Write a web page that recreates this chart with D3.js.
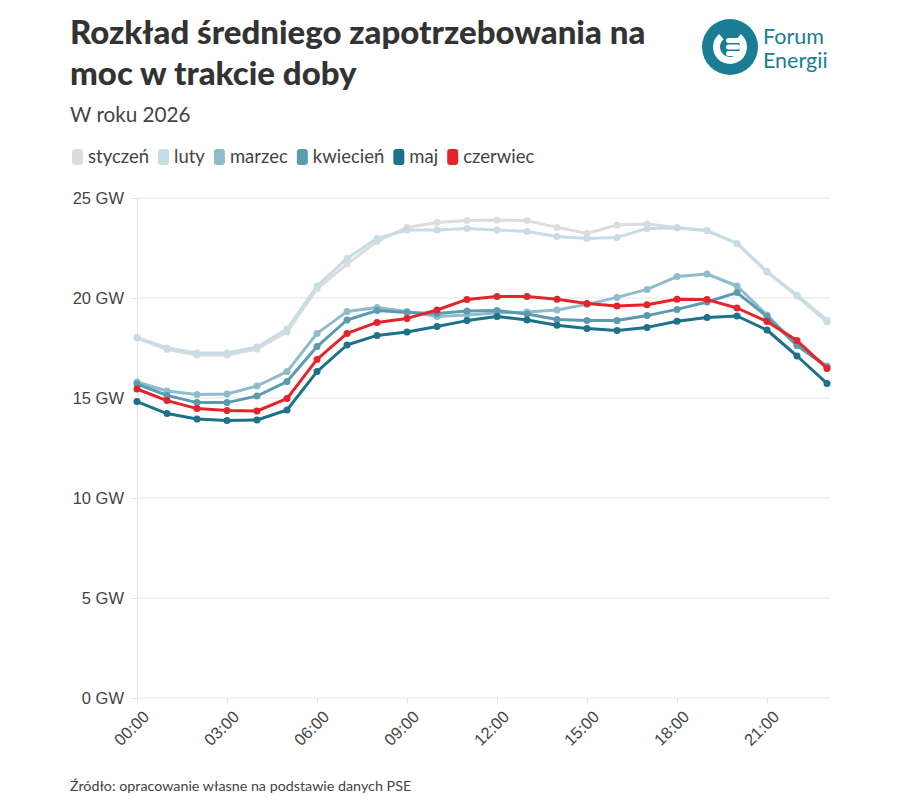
<!DOCTYPE html>
<html>
<head>
<meta charset="utf-8">
<script src="https://cdn.jsdelivr.net/npm/d3@7"></script>
<style>
  body { margin: 0; background: #fff; }
  svg { font-family: "Source Sans Pro", Lato, "Noto Sans", sans-serif; }
</style>
</head>
<body>
<svg id="chart"></svg>
<script>
const hours = d3.range(0, 24);
const months = ['styczeń', 'luty', 'marzec', 'kwiecień', 'maj', 'czerwiec'];
const colors = ['#dcdcdc', '#c6dde6', '#8fbcca', '#5a9bad', '#1b7289', '#e3242b'];

const styczen = [18.0, 17.42, 17.15, 17.15, 17.45, 18.3, 20.45, 21.7, 22.82, 23.53, 23.78, 23.87, 23.9, 23.87, 23.53, 23.23, 23.65, 23.7, 23.52, 23.37, 22.73, 21.32, 20.15, 18.9];
const luty = [18.03, 17.5, 17.25, 17.25, 17.55, 18.45, 20.6, 21.98, 22.98, 23.4, 23.4, 23.48, 23.4, 23.33, 23.07, 22.97, 23.03, 23.48, 23.5, 23.37, 22.73, 21.3, 20.1, 18.8];
const marzec = [15.8, 15.35, 15.18, 15.2, 15.6, 16.32, 18.23, 19.32, 19.53, 19.32, 19.07, 19.15, 19.25, 19.3, 19.4, 19.68, 20.03, 20.43, 21.07, 21.2, 20.6, 19.15, 17.65, 16.6];
const kwiecien = [15.7, 15.13, 14.77, 14.77, 15.1, 15.82, 17.57, 18.9, 19.37, 19.27, 19.23, 19.35, 19.38, 19.2, 18.93, 18.88, 18.88, 19.12, 19.43, 19.8, 20.27, 19.07, 17.62, 16.55];
const maj = [14.82, 14.22, 13.95, 13.88, 13.9, 14.4, 16.32, 17.65, 18.13, 18.3, 18.57, 18.87, 19.07, 18.9, 18.64, 18.47, 18.38, 18.53, 18.84, 19.02, 19.1, 18.4, 17.1, 15.73];
const czerwiec = [15.45, 14.87, 14.47, 14.37, 14.35, 14.97, 16.93, 18.23, 18.78, 18.98, 19.4, 19.93, 20.07, 20.07, 19.94, 19.72, 19.6, 19.66, 19.94, 19.92, 19.5, 18.83, 17.87, 16.48];

const seriesValues = [styczen, luty, marzec, kwiecien, maj, czerwiec];
const yTicks = [0, 5, 10, 15, 20, 25];
const xTicks = [0, 3, 6, 9, 12, 15, 18, 21];

const width = 916;
const height = 804;
const teal = '#1a7d93';

const svg = d3.select('#chart')
  .attr('width', width)
  .attr('height', height);

const xScale = d3.scaleLinear()
  .domain([0, 23])
  .range([137, 827]);

const yScale = d3.scaleLinear()
  .domain([0, 25])
  .range([698, 198]);

// Title block
const title = svg.append('g').attr('fill', '#333').attr('font-weight', 900);
title.append('text').attr('x', 70).attr('y', 44).attr('font-size', 33)
  .text('Rozkład średniego zapotrzebowania na');
title.append('text').attr('x', 70).attr('y', 85).attr('font-size', 33)
  .text('moc w trakcie doby');

svg.append('text')
  .attr('x', 70).attr('y', 122)
  .attr('font-size', 20.7)
  .attr('fill', '#444')
  .text('W roku 2026');

// Logo
const logo = svg.append('g').attr('transform', 'translate(730, 47)');
logo.append('circle').attr('r', 28).attr('fill', teal);
logo.append('path')
  .attr('d', d3.arc()({innerRadius: 10, outerRadius: 17, startAngle: Math.PI * 0.22, endAngle: Math.PI * 1.78}))
  .attr('fill', '#fff');
logo.append('rect').attr('x', -4).attr('y', -9).attr('width', 14).attr('height', 5).attr('rx', 2.5).attr('fill', '#fff');
logo.append('rect').attr('x', -4).attr('y', -2.5).attr('width', 14).attr('height', 5).attr('rx', 2.5).attr('fill', '#fff');
logo.append('rect').attr('x', -4).attr('y', 4).attr('width', 14).attr('height', 5).attr('rx', 2.5).attr('fill', '#fff');
svg.append('text').attr('x', 763).attr('y', 44).attr('font-size', 21.5).attr('fill', teal).text('Forum');
svg.append('text').attr('x', 763).attr('y', 68).attr('font-size', 21.5).attr('fill', teal).text('Energii');

// Legend
const legend = svg.append('g').attr('transform', 'translate(72, 149)');
let lx = 0;
months.forEach((m, i) => {
  const item = legend.append('g').attr('transform', `translate(${lx}, 0)`);
  item.append('rect')
    .attr('width', 11).attr('height', 16).attr('rx', 3)
    .attr('fill', colors[i]);
  const t = item.append('text')
    .attr('x', 16).attr('y', 14)
    .attr('font-size', 18.5)
    .attr('fill', '#444')
    .text(m);
  lx += 16 + t.node().getComputedTextLength() + 9;
});

// Grid + y axis
svg.append('g')
  .attr('transform', 'translate(137, 0)')
  .call(d3.axisLeft(yScale).tickValues(yTicks).tickSize(6).tickFormat((d) => `${d} GW`))
  .call((g) => g.select('.domain').attr('stroke', '#e3e3e3'))
  .call((g) => g.selectAll('.tick line').attr('stroke', '#e3e3e3'))
  .call((g) => g.selectAll('.tick text')
    .attr('x', -13).attr('font-size', 16.5).attr('fill', '#444').attr('font-family', null));

svg.append('g')
  .selectAll('line')
  .data(yTicks)
  .enter()
  .append('line')
  .attr('x1', 137).attr('x2', 830)
  .attr('y1', (d) => yScale(d)).attr('y2', (d) => yScale(d))
  .attr('stroke', '#e6e6e6');

// Bottom time axis
svg.append('g')
  .attr('transform', `translate(0, ${yScale(0)})`)
  .call(d3.axisBottom(xScale).tickValues(xTicks).tickSize(5)
    .tickFormat((d) => `${String(d).padStart(2, '0')}:00`))
  .call((g) => g.select('.domain').remove())
  .call((g) => g.selectAll('.tick line').attr('stroke', '#e3e3e3'))
  .call((g) => g.selectAll('.tick text')
    .attr('font-size', 16.5).attr('fill', '#444').attr('font-family', null)
    .attr('text-anchor', 'end')
    .attr('dy', null)
    .attr('transform', 'translate(7, 14) rotate(-45)'));

// Lines
const line = d3.line()
  .x((d, i) => xScale(hours[i]))
  .y((d) => yScale(d));

const series = svg.append('g')
  .selectAll('g')
  .data(seriesValues)
  .enter()
  .append('g');

series.append('path')
  .attr('d', (d) => line(d))
  .attr('fill', 'none')
  .attr('stroke', (d, i) => colors[i])
  .attr('stroke-width', 3)
  .attr('stroke-linejoin', 'round');

series.each(function (vals, i) {
  d3.select(this).selectAll('circle')
    .data(vals)
    .enter()
    .append('circle')
    .attr('cx', (d, j) => xScale(hours[j]))
    .attr('cy', (d) => yScale(d))
    .attr('r', 3.5)
    .attr('fill', colors[i]);
});

svg.append('text')
  .attr('x', 70).attr('y', 791)
  .attr('font-size', 14.3)
  .attr('fill', '#444')
  .text('Źródło: opracowanie własne na podstawie danych PSE');
</script>
</body>
</html>
